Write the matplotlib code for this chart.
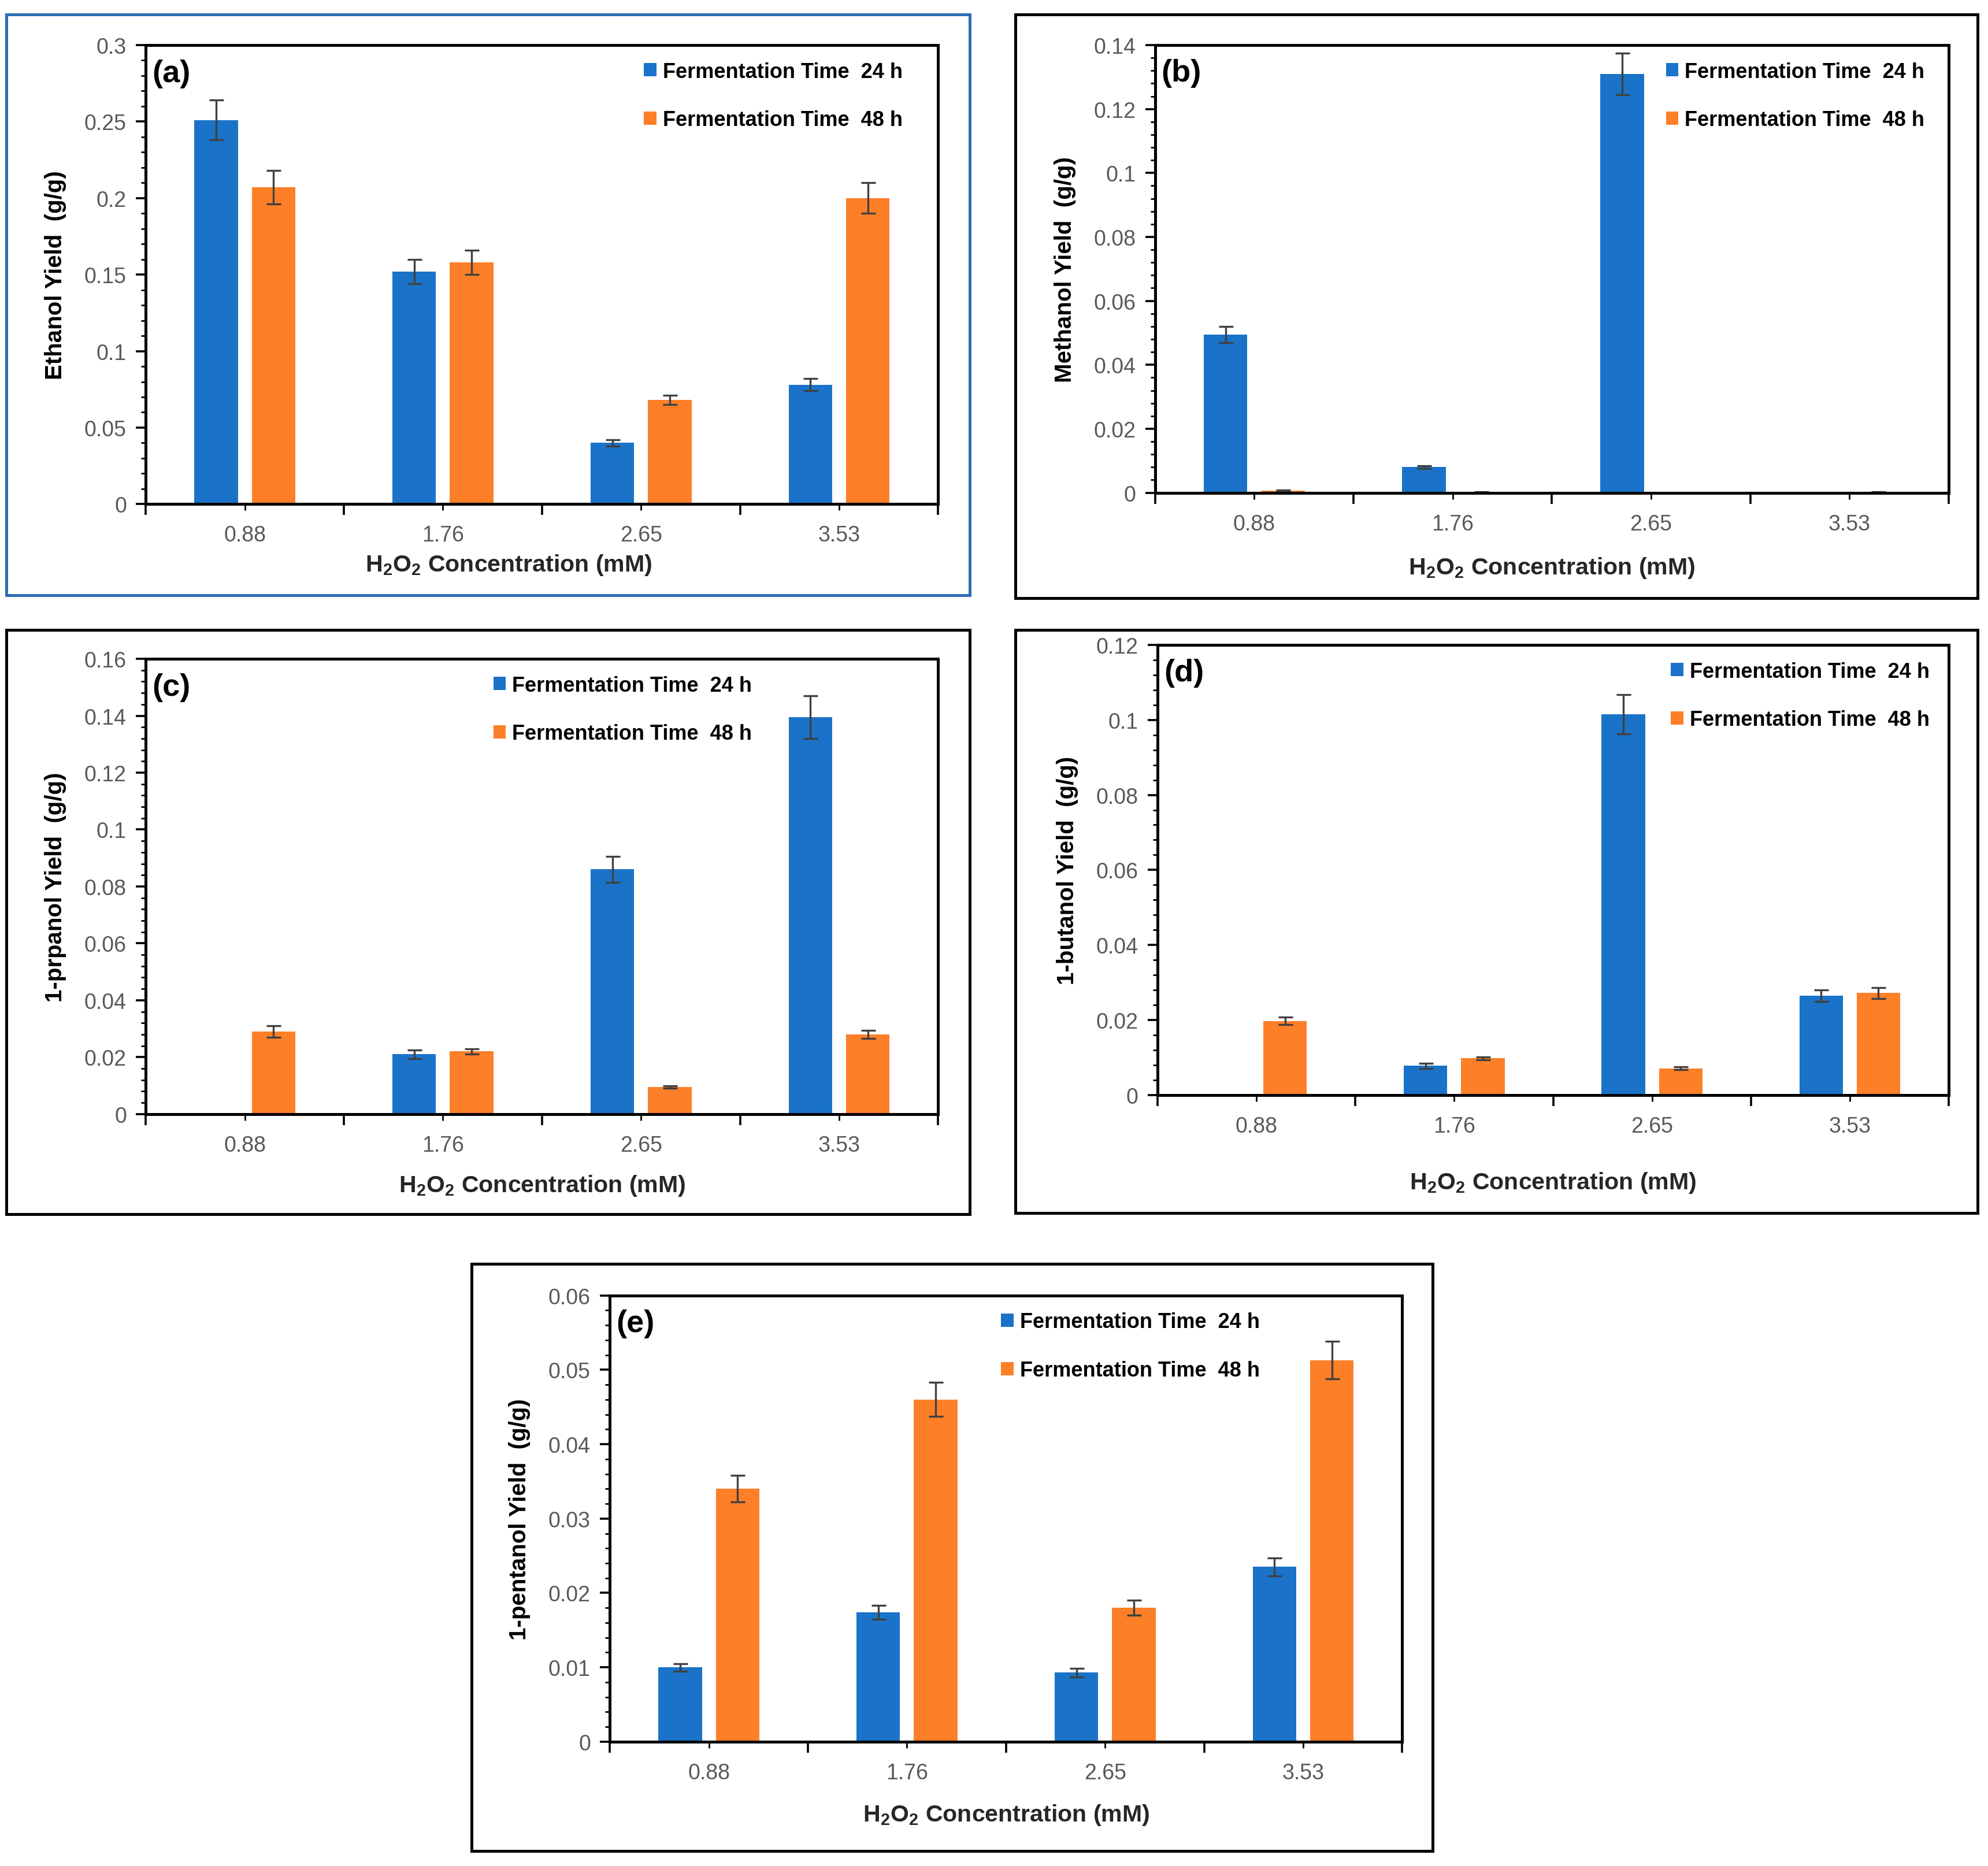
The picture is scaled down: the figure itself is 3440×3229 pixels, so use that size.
import matplotlib
matplotlib.use("Agg")
import matplotlib.pyplot as plt
import numpy as np
from matplotlib.patches import Rectangle
from matplotlib.ticker import MultipleLocator, FuncFormatter

concentrations = ["0.88", "1.76", "2.65", "3.53"]
series_labels = ["Fermentation Time  24 h", "Fermentation Time  48 h"]

ethanol_24 = [0.251, 0.152, 0.040, 0.078]
ethanol_24_err = [0.013, 0.008, 0.002, 0.004]
ethanol_48 = [0.207, 0.158, 0.068, 0.200]
ethanol_48_err = [0.011, 0.008, 0.003, 0.010]

methanol_24 = [0.0495, 0.0080, 0.131, 0.0]
methanol_24_err = [0.0025, 0.0005, 0.0065, 0.0]
methanol_48 = [0.0007, 0.0002, 0.0, 0.0002]
methanol_48_err = [0.0002, 0.0001, 0.0, 0.0001]

propanol_24 = [0.0, 0.021, 0.086, 0.1395]
propanol_24_err = [0.0, 0.0015, 0.0045, 0.0075]
propanol_48 = [0.029, 0.022, 0.0095, 0.028]
propanol_48_err = [0.002, 0.001, 0.0005, 0.0015]

butanol_24 = [0.0, 0.0078, 0.1015, 0.0265]
butanol_24_err = [0.0, 0.0007, 0.0052, 0.0015]
butanol_48 = [0.0197, 0.0098, 0.0071, 0.0272]
butanol_48_err = [0.001, 0.0004, 0.0004, 0.0015]

pentanol_24 = [0.0100, 0.0174, 0.0093, 0.0235]
pentanol_24_err = [0.0005, 0.0009, 0.0006, 0.0012]
pentanol_48 = [0.0340, 0.0460, 0.0180, 0.0513]
pentanol_48_err = [0.0018, 0.0023, 0.0010, 0.0025]

BLUE = "#1A73C8"
ORANGE = "#FD7F27"
TICK_GREY = "#595959"
FONT = "Liberation Sans"

W, H = 1568.0, 1472.0  # reference layout units


def fig_rect(x0, y0, x1, y1):
    return [x0 / W, 1 - y1 / H, (x1 - x0) / W, (y1 - y0) / H]


def make_panel(fig, frame, axbox, tag, ylabel, s24, e24, s48, e48, ymax, major, minor, leg_pos,
               xlabelpad=6, xlabel_x=0.5, frame_color="black"):
    fx0, fy0, fx1, fy1 = frame
    fig.patches.append(Rectangle((fx0 / W, 1 - fy1 / H), (fx1 - fx0) / W, (fy1 - fy0) / H,
                                 transform=fig.transFigure, fill=False, lw=1.8, edgecolor=frame_color))
    ax = fig.add_axes(fig_rect(*axbox))
    x = np.arange(len(concentrations)) + 0.5
    width = 0.22
    off = 0.145
    err_kw = dict(ecolor="#404040", elinewidth=1.2, capsize=4.5, capthick=1.2)
    ax.bar(x - off, s24, width, yerr=e24, color=BLUE, error_kw=err_kw, label=series_labels[0], zorder=2)
    ax.bar(x + off, s48, width, yerr=e48, color=ORANGE, error_kw=err_kw, label=series_labels[1], zorder=2)

    ax.set_xlim(0, 4)
    ax.set_ylim(0, ymax)
    ax.set_xticks(np.arange(5))
    ax.set_xticklabels([])
    ax.set_xticks(x, minor=True)
    ax.set_xticklabels(concentrations, minor=True)
    ax.tick_params(axis="x", which="major", length=7, width=1.3, direction="out")
    ax.tick_params(axis="x", which="minor", length=4, width=1.0, direction="out",
                   labelsize=13.5, labelcolor=TICK_GREY, pad=9)
    for lab in ax.get_xticklabels(minor=True):
        lab.set_family(FONT)

    ax.yaxis.set_major_locator(MultipleLocator(major))
    ax.yaxis.set_minor_locator(MultipleLocator(minor))
    ax.yaxis.set_major_formatter(FuncFormatter(lambda v, p: f"{round(v, 6):g}"))
    ax.tick_params(axis="y", which="major", length=6, width=1.3, direction="out",
                   labelsize=13.5, labelcolor=TICK_GREY, pad=6)
    ax.tick_params(axis="y", which="minor", length=3, width=1.0, direction="out")
    for lab in ax.get_yticklabels():
        lab.set_family(FONT)

    for sp in ax.spines.values():
        sp.set_linewidth(1.8)
        sp.set_color("black")

    ax.set_ylabel(ylabel, fontsize=14.5, fontweight="bold", family=FONT, labelpad=11)
    ax.set_xlabel(r"H$_\mathregular{2}$O$_\mathregular{2}$ Concentration (mM)", fontsize=14.8,
                  fontweight="bold", family=FONT, color="#262626", labelpad=xlabelpad)
    ax.xaxis.label.set_x(xlabel_x)
    ax.text(0.008, 0.97, tag, transform=ax.transAxes, fontsize=19.5, fontweight="bold",
            family=FONT, va="top", ha="left")
    ax.legend(loc="upper left", bbox_to_anchor=leg_pos, frameon=False, handlelength=0.6,
              handleheight=0.6, handletextpad=0.3, labelspacing=1.35,
              prop={"family": FONT, "weight": "bold", "size": 13})
    return ax


plt.rcParams["mathtext.default"] = "regular"
plt.rcParams["mathtext.fontset"] = "custom"
plt.rcParams["mathtext.rm"] = FONT
plt.rcParams["mathtext.bf"] = FONT + ":bold"
fig = plt.figure(figsize=(17.2, 16.15), dpi=200)

make_panel(fig, (5, 12, 765, 470), (115, 36, 740, 398), "(a)", "Ethanol Yield  (g/g)",
           ethanol_24, ethanol_24_err, ethanol_48, ethanol_48_err, 0.3, 0.05, 0.01,
           (0.605, 1.005), xlabelpad=4, xlabel_x=0.458, frame_color="#2E6DB4")
make_panel(fig, (801, 12, 1560, 472), (911, 36, 1537, 389), "(b)", "Methanol Yield  (g/g)",
           methanol_24, methanol_24_err, methanol_48, methanol_48_err, 0.14, 0.02, 0.004,
           (0.62, 1.005), xlabelpad=13)
make_panel(fig, (5, 497, 765, 958), (115, 520, 740, 879), "(c)", "1-prpanol Yield  (g/g)",
           propanol_24, propanol_24_err, propanol_48, propanol_48_err, 0.16, 0.02, 0.004,
           (0.415, 1.005), xlabelpad=11)
make_panel(fig, (801, 497, 1560, 957), (913, 509, 1537, 864), "(d)", "1-butanol Yield  (g/g)",
           butanol_24, butanol_24_err, butanol_48, butanol_48_err, 0.12, 0.02, 0.004,
           (0.625, 1.005), xlabelpad=21)
make_panel(fig, (372, 997, 1130, 1460), (481, 1022, 1106, 1374), "(e)", "1-pentanol Yield  (g/g)",
           pentanol_24, pentanol_24_err, pentanol_48, pentanol_48_err, 0.06, 0.01, 0.002,
           (0.47, 1.005), xlabelpad=12)

fig.savefig("out.png", dpi=200)
